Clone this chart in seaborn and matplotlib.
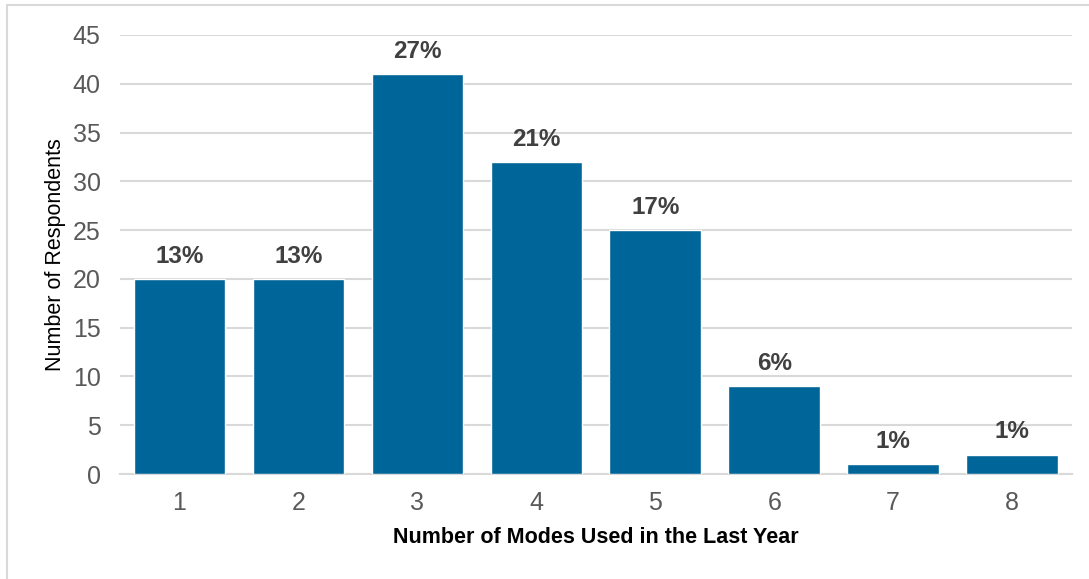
import matplotlib
matplotlib.use("Agg")
import matplotlib.pyplot as plt
import seaborn as sns
import pandas as pd
from matplotlib.patches import Rectangle

modes = ["1", "2", "3", "4", "5", "6", "7", "8"]
respondents = [20, 20, 41, 32, 25, 9, 1, 2]
pct_labels = ["13%", "13%", "27%", "21%", "17%", "6%", "1%", "1%"]
y_ticks = [0, 5, 10, 15, 20, 25, 30, 35, 40, 45]

sns.set_theme(style="white")
plt.rcParams["font.family"] = ["Liberation Sans", "DejaVu Sans"]

df = pd.DataFrame({"modes": modes, "respondents": respondents})

fig = plt.figure(figsize=(10.89, 5.79), dpi=100)
ax = fig.add_axes([0.1102, 0.1813, 0.8738, 0.7583])

# outer frame
fig.patches.append(Rectangle((7 / 1089, -0.1), 1.2, 1 - 5 / 579 + 0.1,
                             transform=fig.transFigure, fill=False,
                             edgecolor="#d9d9d9", linewidth=1.5, zorder=0))

sns.barplot(data=df, x="modes", y="respondents", color="#006699",
            width=0.77, saturation=1, ax=ax, zorder=3)

ax.set_ylim(0, 45)
ax.set_yticks(y_ticks)
ax.grid(axis="y", color="#d9d9d9", linewidth=1.5, zorder=0)
ax.grid(axis="x", visible=False)
for s in ["top", "right", "left"]:
    ax.spines[s].set_visible(False)
ax.spines["bottom"].set_color("#d9d9d9")
ax.spines["bottom"].set_linewidth(1.5)
ax.tick_params(axis="both", length=0, labelsize=18, labelcolor="#595959")
ax.tick_params(axis="y", pad=14)
ax.tick_params(axis="x", pad=12)

for i, (v, lab) in enumerate(zip(respondents, pct_labels)):
    ax.annotate(lab, (i, v), xytext=(0, 8), textcoords="offset points",
                ha="center", va="bottom", fontsize=17.5, fontweight="bold",
                color="#404040")

ax.set_xlabel("Number of Modes Used in the Last Year", fontsize=15.5,
              fontweight="bold", color="black", labelpad=9)
ax.set_ylabel("Number of Respondents", fontsize=15.5, color="black", labelpad=5)

fig.savefig("out.png", dpi=100)
